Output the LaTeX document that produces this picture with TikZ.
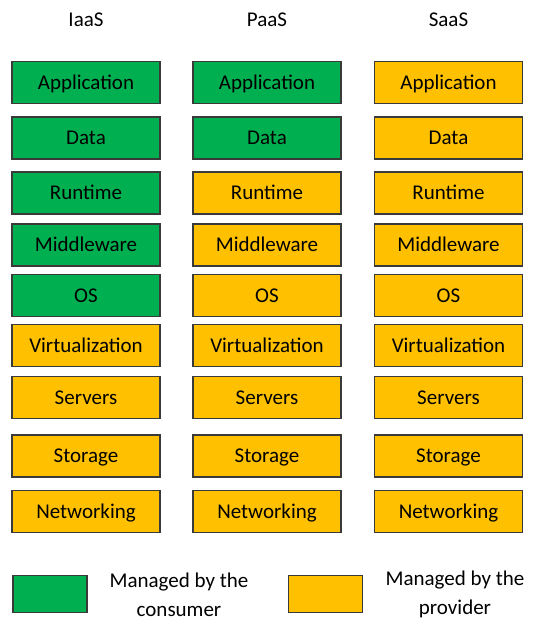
\documentclass[tikz,border=0pt]{standalone}
\usepackage{fontspec}
\setmainfont{Carlito}
\definecolor{consumer}{HTML}{00B050}
\definecolor{provider}{HTML}{FFC000}
\definecolor{edge}{HTML}{3A3A3A}
\begin{document}
\begin{tikzpicture}[x=1pt,y=-1pt,
  layer/.style={draw=edge, line width=1.1pt, minimum width=148pt, minimum height=42pt,
    inner sep=0pt, text height=13.5pt, text depth=0pt,
    font=\fontsize{21}{24}\selectfont, text=black},
  mine/.style={layer, fill=consumer},
  theirs/.style={layer, fill=provider},
  head/.style={font=\fontsize{21}{24}\selectfont, text=black, text height=13.5pt, text depth=0pt},
  key/.style={draw=edge, line width=1.1pt, minimum width=74pt, minimum height=37pt, inner sep=0pt},
  keytext/.style={font=\fontsize{21}{29}\selectfont, align=center, text=black}]
\useasboundingbox (0,0) rectangle (539,619);

% column headings
\node[head] (hI) at (86,20) {IaaS};
\node[head] (hP) at (267,20) {PaaS};
\node[head] (hS) at (448.5,20) {SaaS};

% IaaS stack
\node[mine]   (i1) at (86,82.5)  {Application};
\node[mine]   (i2) at (86,138)   {Data};
\node[mine]   (i3) at (86,193)   {Runtime};
\node[mine]   (i4) at (86,245)   {Middleware};
\node[mine]   (i5) at (86,295.5) {OS};
\node[theirs] (i6) at (86,345.7) {Virtualization};
\node[theirs] (i7) at (86,397.3) {Servers};
\node[theirs] (i8) at (86,456)   {Storage};
\node[theirs] (i9) at (86,511.3) {Networking};

% PaaS stack
\node[mine]   (p1) at (267,82.5)  {Application};
\node[mine]   (p2) at (267,138)   {Data};
\node[theirs] (p3) at (267,193)   {Runtime};
\node[theirs] (p4) at (267,245)   {Middleware};
\node[theirs] (p5) at (267,295.5) {OS};
\node[theirs] (p6) at (267,345.7) {Virtualization};
\node[theirs] (p7) at (267,397.3) {Servers};
\node[theirs] (p8) at (267,456)   {Storage};
\node[theirs] (p9) at (267,511.3) {Networking};

% SaaS stack
\node[theirs] (s1) at (448.5,82.5)  {Application};
\node[theirs] (s2) at (448.5,138)   {Data};
\node[theirs] (s3) at (448.5,193)   {Runtime};
\node[theirs] (s4) at (448.5,245)   {Middleware};
\node[theirs] (s5) at (448.5,295.5) {OS};
\node[theirs] (s6) at (448.5,345.7) {Virtualization};
\node[theirs] (s7) at (448.5,397.3) {Servers};
\node[theirs] (s8) at (448.5,456)   {Storage};
\node[theirs] (s9) at (448.5,511.3) {Networking};

% legend
\node[key, fill=consumer] (kc) at (50,594) {};
\node[keytext] (tc) at (179,594.5) {Managed by the\\consumer};
\node[key, fill=provider] (kp) at (325.7,594) {};
\node[keytext] (tp) at (455,594.5) {Managed by the\\provider};
\end{tikzpicture}
\end{document}
